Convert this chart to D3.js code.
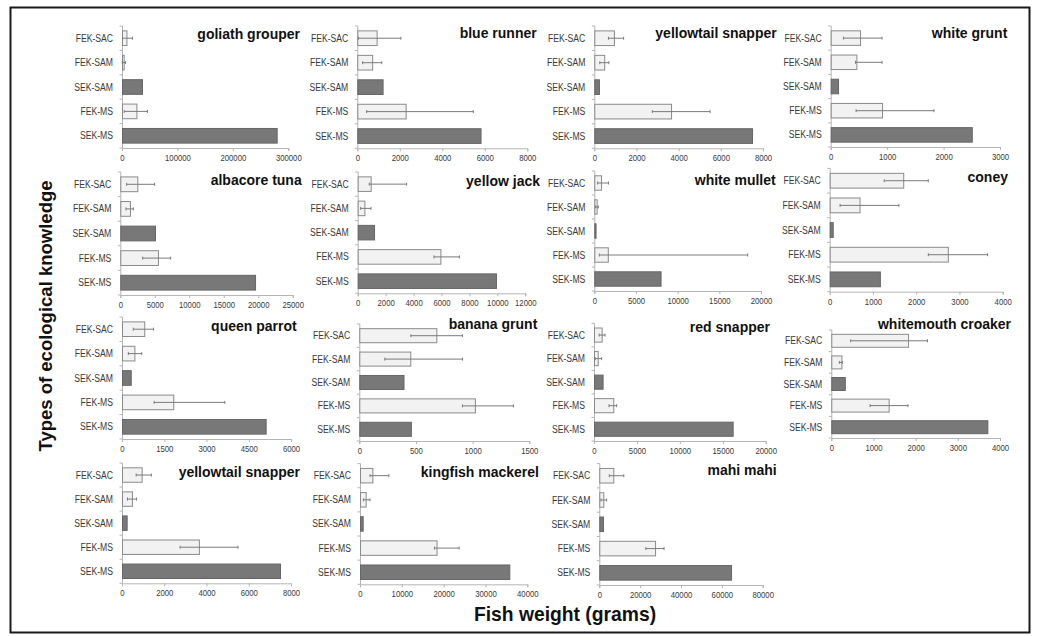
<!DOCTYPE html>
<html>
<head>
<meta charset="utf-8">
<script src="https://cdn.jsdelivr.net/npm/d3@7"></script>
<style>
  html, body { margin: 0; padding: 0; background: #fff; }
  svg { display: block; font-family: "Liberation Sans", Arial, Helvetica, sans-serif; }
</style>
</head>
<body>
<svg id="chart" width="1040" height="636"></svg>
<script>
// Knowledge types shown on every panel's vertical axis
const categories = ["FEK-SAC", "FEK-SAM", "SEK-SAM", "FEK-MS", "SEK-MS"];

const species = [
  "goliath grouper", "blue runner", "yellowtail snapper", "white grunt",
  "albacore tuna", "yellow jack", "white mullet", "coney",
  "queen parrot", "banana grunt", "red snapper", "whitemouth croaker",
  "yellowtail snapper", "kingfish mackerel", "mahi mahi"
];

// Mean fish weight (grams) per species, one array per knowledge type
const fekSac   = [8000, 910, 930, 520, 2470, 930, 810, 1700, 790, 680, 890, 1820, 930, 2950, 6860];
const fekSam   = [3000, 700, 470, 455, 1400, 480, 280, 690, 440, 450, 430, 240, 470, 1350, 1960];
const sekSam   = [36000, 1190, 220, 130, 5030, 1170, 150, 70, 310, 390, 1000, 320, 220, 640, 1800];
const fekMs    = [26000, 2275, 3640, 910, 5460, 5920, 1620, 2730, 1820, 1020, 2250, 1360, 3640, 18300, 27300];
const sekMs    = [279000, 5800, 7480, 2500, 19540, 9900, 7950, 1160, 5100, 455, 16150, 3700, 7480, 35700, 64500];

// Error bar ends (grams) for the FEK groups
const fekSacLo = [1000, 50, 670, 225, 920, 830, 400, 1260, 400, 455, 600, 460, 670, 2400, 4900];
const fekSacHi = [19000, 2050, 1390, 910, 4980, 3500, 1700, 2280, 1120, 910, 1280, 2280, 1390, 6900, 12000];
const fekSamLo = [500, 250, 260, 440, 820, 215, 150, 240, 225, 225, 150, 190, 260, 800, 800];
const fekSamHi = [6500, 1150, 690, 910, 1890, 950, 480, 1600, 700, 910, 890, 260, 690, 2400, 3600];
const fekMsLo  = [4000, 440, 2750, 450, 3240, 5460, 600, 2280, 1140, 910, 1750, 920, 2750, 17800, 22800];
const fekMsHi  = [46000, 5460, 5490, 1830, 7300, 7280, 18400, 3650, 3650, 1360, 2640, 1820, 5490, 23700, 31700];

// Horizontal axis extent and tick spacing per panel
const axisMax  = [300000, 8000, 8000, 3000, 25000, 12000, 20000, 4000, 6000, 1500, 20000, 4000, 8000, 40000, 80000];
const tickStep = [100000, 2000, 2000, 1000, 5000, 2000, 5000, 1000, 1500, 500, 5000, 1000, 2000, 10000, 20000];

// Panel placement on the page (plot area edges and title anchor)
const plotLeft   = [122, 357.3, 594.3, 830.7, 120.3, 357.7, 594.3, 829.7, 122, 359.3, 594, 831.3, 122, 360, 599.3];
const plotRight  = [288.3, 527.3, 763, 1000, 292.7, 525.3, 761, 1002.7, 291, 529.3, 765.7, 1000, 291, 527.3, 762.7];
const plotTop    = [26, 26, 26, 26, 172, 172, 171, 168.4, 317, 324, 323.3, 330, 463, 463.6, 463.6];
const plotBottom = [148, 148.3, 148.3, 147, 295, 293.3, 291, 291.7, 439, 441, 441, 438, 583.3, 584.3, 585];
const titleRight = [300, 536.7, 776.7, 1007.3, 301.7, 540, 775.7, 1008, 296.7, 537.3, 770, 1011, 300, 539, 776.7];
const titleMid   = [34, 33.3, 33, 33, 180, 180.7, 180, 176.7, 326, 324, 327.3, 324, 471.7, 471.7, 470];

const series = [fekSac, fekSam, sekSam, fekMs, sekMs];
const lows   = [fekSacLo, fekSamLo, null, fekMsLo, null];
const highs  = [fekSacHi, fekSamHi, null, fekMsHi, null];

const svg = d3.select("#chart");

// squeeze a text run horizontally to a given fraction of its natural width
function condense(sel, k) {
  sel.each(function () {
    const w = this.getComputedTextLength();
    d3.select(this).attr("textLength", w * k).attr("lengthAdjust", "spacingAndGlyphs");
  });
}

// outer frame
svg.append("rect")
  .attr("x", 10.5).attr("y", 7.5).attr("width", 1019).attr("height", 625)
  .attr("fill", "none").attr("stroke", "#1a1a1a").attr("stroke-width", 2);

species.forEach((name, i) => {
  const g = svg.append("g").attr("class", "panel");

  const x = d3.scaleLinear().domain([0, axisMax[i]]).range([plotLeft[i], plotRight[i]]);
  const y = d3.scaleBand().domain(categories)
    .range([plotTop[i], plotBottom[i]]).paddingInner(0.4).paddingOuter(0.2);

  const rows = categories.map((c, j) => ({
    cat: c,
    value: series[j][i],
    lo: lows[j] ? lows[j][i] : null,
    hi: highs[j] ? highs[j][i] : null,
    dark: c.startsWith("SEK")
  }));

  // x axis
  const ticks = d3.range(0, axisMax[i] + tickStep[i] / 2, tickStep[i]);
  const xAxis = g.append("g")
    .attr("transform", `translate(0,${plotBottom[i]})`)
    .call(d3.axisBottom(x).tickValues(ticks).tickFormat(d3.format("d")).tickSize(3).tickPadding(4));
  xAxis.select(".domain").attr("stroke", "#b5b5b5");
  xAxis.selectAll(".tick line").attr("stroke", "#b5b5b5");
  xAxis.selectAll(".tick text")
    .attr("fill", "#3a3a3a").attr("font-size", 8.6)
    .attr("font-family", "'Liberation Sans', Arial, sans-serif");
  condense(xAxis.selectAll(".tick text"), 0.9);

  // y axis: line with small ticks at band boundaries
  const step = y.step();
  const boundaries = d3.range(categories.length + 1).map(k => plotTop[i] + k * step);
  g.append("line")
    .attr("x1", plotLeft[i] + 0.5).attr("x2", plotLeft[i] + 0.5)
    .attr("y1", plotTop[i]).attr("y2", plotBottom[i])
    .attr("stroke", "#b5b5b5");
  g.selectAll("line.ytick").data(boundaries).join("line")
    .attr("class", "ytick")
    .attr("x1", plotLeft[i] - 2.5).attr("x2", plotLeft[i] + 0.5)
    .attr("y1", d => d).attr("y2", d => d)
    .attr("stroke", "#b5b5b5");

  const labels = g.selectAll("text.cat").data(rows).join("text")
    .attr("class", "cat")
    .attr("x", plotLeft[i] - 9)
    .attr("y", d => y(d.cat) + y.bandwidth() / 2)
    .attr("dy", "0.35em")
    .attr("text-anchor", "end")
    .attr("font-size", 10)
    .attr("fill", "#3a3a3a")
    .text(d => d.cat);
  condense(labels, 0.86);

  // bars
  g.selectAll("rect.bar").data(rows).join("rect")
    .attr("class", "bar")
    .attr("x", x(0) + 0.5)
    .attr("y", d => y(d.cat))
    .attr("width", d => Math.max(0.8, x(d.value) - x(0)))
    .attr("height", y.bandwidth())
    .attr("fill", d => d.dark ? "#787878" : "#f2f2f2")
    .attr("stroke", d => d.dark ? "#666" : "#8a8a8a")
    .attr("stroke-width", 1);

  // error bars
  const err = rows.filter(d => d.lo != null);
  const eg = g.selectAll("g.err").data(err).join("g").attr("class", "err")
    .attr("stroke", "#7a7a7a").attr("stroke-width", 1);
  eg.append("line")
    .attr("x1", d => x(d.lo)).attr("x2", d => x(d.hi))
    .attr("y1", d => y(d.cat) + y.bandwidth() / 2).attr("y2", d => y(d.cat) + y.bandwidth() / 2);
  eg.append("line")
    .attr("x1", d => x(d.lo)).attr("x2", d => x(d.lo))
    .attr("y1", d => y(d.cat) + y.bandwidth() / 2 - 1.5).attr("y2", d => y(d.cat) + y.bandwidth() / 2 + 1.5);
  eg.append("line")
    .attr("x1", d => x(d.hi)).attr("x2", d => x(d.hi))
    .attr("y1", d => y(d.cat) + y.bandwidth() / 2 - 1.5).attr("y2", d => y(d.cat) + y.bandwidth() / 2 + 1.5);

  // species title
  g.append("text")
    .attr("x", titleRight[i]).attr("y", titleMid[i]).attr("dy", "0.35em")
    .attr("text-anchor", "end")
    .attr("font-size", 14).attr("font-weight", "bold").attr("fill", "#111")
    .text(name);
});

// shared axis titles
svg.append("text")
  .attr("transform", "translate(45.5,316) rotate(-90)")
  .attr("text-anchor", "middle").attr("dy", "0.35em")
  .attr("font-size", 18.5).attr("font-weight", "bold").attr("fill", "#111")
  .text("Types of ecological knowledge");

svg.append("text")
  .attr("x", 565).attr("y", 614).attr("dy", "0.35em")
  .attr("text-anchor", "middle")
  .attr("font-size", 19.3).attr("font-weight", "bold").attr("fill", "#111")
  .text("Fish weight (grams)");
</script>
</body>
</html>
